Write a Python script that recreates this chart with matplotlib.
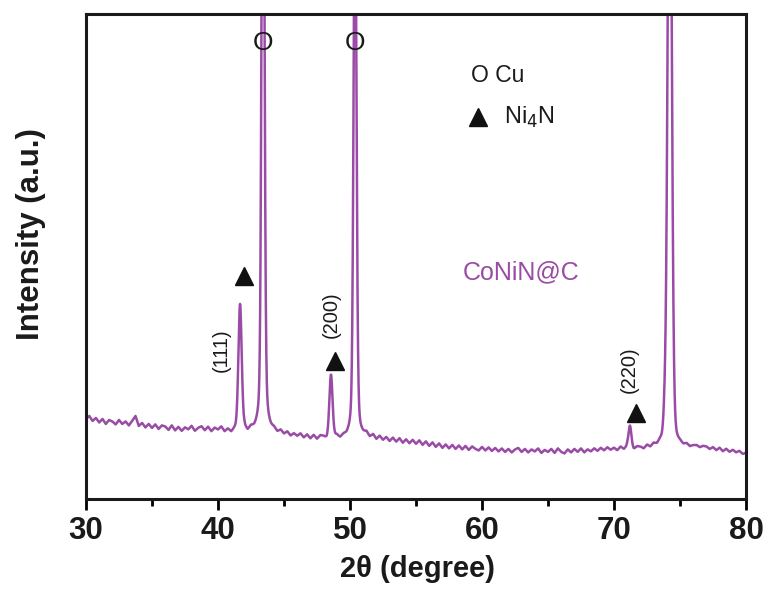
import numpy as np
import matplotlib
matplotlib.use("Agg")
import matplotlib.pyplot as plt
from matplotlib import font_manager

# ---- data -------------------------------------------------------------
# background of the XRD scan, sampled every 0.25 degree from 30 to 80
two_theta_bg_start, two_theta_bg_stop, two_theta_bg_step = 30.0, 80.0, 0.25
background = [
    160, 166, 156, 162, 153, 160, 150, 158, 155, 149, 158, 150, 155, 147, 156, 166,
    146, 152, 143, 150, 142, 149, 140, 147, 145, 138, 147, 137, 144, 136, 143, 139,
    146, 136, 142, 145, 137, 144, 135, 142, 138, 144, 134, 139, 132, 138, 135, 136,
    140, 132, 139, 135, 138, 136, 135, 137, 134, 136, 130, 135, 128, 133, 125, 130,
    125, 130, 122, 128, 120, 127, 119, 126, 124, 119, 126, 121, 125, 119, 124, 122,
    126, 123, 127, 122, 124, 129, 121, 127, 118, 125, 117, 123, 115, 122, 114, 121,
    112, 119, 111, 118, 110, 117, 108, 115, 106, 113, 104, 111, 102, 109, 101, 108,
    100, 107, 99, 106, 98, 105, 100, 97, 104, 97, 103, 96, 102, 95, 101, 94,
    100, 93, 99, 102, 94, 100, 93, 99, 95, 101, 92, 98, 94, 100, 92, 101,
    94, 91, 99, 93, 100, 94, 101, 93, 99, 95, 101, 96, 102, 97, 103, 98,
    102, 97, 104, 99, 105, 100, 98, 104, 103, 99, 106, 101, 107, 103, 108, 104,
    107, 103, 108, 104, 106, 103, 107, 102, 105, 106, 102, 105, 104, 99, 103, 97,
    102, 95, 100, 94, 98, 93, 96, 90, 92,
]

# diffraction peaks: position (2theta), height above background,
# gaussian sigma and lorentzian fraction (pseudo-Voigt)
peak_pos = [41.67, 43.41, 48.56, 50.38, 71.21, 73.85, 74.22]
peak_height = [252, 1550, 122, 1150, 45, 44, 1450]
peak_sigma = [0.125, 0.105, 0.12, 0.11, 0.11, 0.10, 0.15]
peak_eta = [0.2, 0.3, 0.2, 0.3, 0.2, 0.0, 0.2]

x_ticks = [30, 40, 50, 60, 70, 80]
hkl_labels = ["(111)", "(200)", "(220)"]
hkl_x = [40.22, 48.56, 71.16]
hkl_y = [298, 368, 258]
tri_x = [42.0, 48.9, 71.7]
tri_y = [446, 276, 172]
cu_marks = [43.41, 50.38]

# ---- build the pattern ------------------------------------------------
bg_x = np.arange(two_theta_bg_start, two_theta_bg_stop + 1e-9, two_theta_bg_step)
assert len(bg_x) == len(background)
tt = np.arange(30.0, 80.0001, 0.01)
intensity = np.interp(tt, bg_x, background).astype(float)
for p, h, s, eta in zip(peak_pos, peak_height, peak_sigma, peak_eta):
    gamma = 1.1774 * s
    gauss = np.exp(-0.5 * ((tt - p) / s) ** 2)
    lorentz = gamma ** 2 / ((tt - p) ** 2 + gamma ** 2)
    intensity = intensity + h * ((1 - eta) * gauss + eta * lorentz)

# ---- fonts --------------------------------------------------------------
available = {f.name for f in font_manager.fontManager.ttflist}
narrow = "Liberation Sans Narrow" if "Liberation Sans Narrow" in available else "Liberation Sans"
plt.rcParams["font.family"] = ["Liberation Sans", "DejaVu Sans"]

purple = "#9a4ba6"
ink = "#1a1a1a"

fig = plt.figure(figsize=(7.71, 5.92), dpi=100)
ax = fig.add_axes([86 / 771, 1 - 499 / 592, 660 / 771, 485 / 592])
ax.plot(tt, intensity, color=purple, lw=1.8)
ax.set_xlim(30, 80)
ax.set_ylim(0, 970)

for sp in ax.spines.values():
    sp.set_linewidth(2.2)
    sp.set_color(ink)

ax.set_yticks([])
ax.set_xticks(x_ticks)
ax.set_xticks(np.arange(35, 80, 10), minor=True)
ax.tick_params(axis="x", which="major", direction="out", length=8, width=2.0, pad=4)
ax.tick_params(axis="x", which="minor", direction="out", length=5, width=2.0)
for lbl in ax.get_xticklabels():
    lbl.set_fontfamily(narrow)
    lbl.set_fontweight("bold")
    lbl.set_fontsize(22.5)
    lbl.set_color(ink)

fig.text(418 / 771, 1 - 569 / 592, "2θ (degree)", fontsize=21, fontweight="bold",
         family=narrow, color=ink, ha="center", va="center")
fig.text(31 / 771, 1 - 234 / 592, "Intensity (a.u.)", fontsize=22.5,
         fontweight="bold", color=ink, ha="center", va="center", rotation=90)

# Cu markers above the substrate reflections
for p in cu_marks:
    ax.text(p, 0.94, "O", transform=ax.get_xaxis_transform(), ha="center",
            va="center", fontsize=19, color=ink)

# Ni4N markers
ax.plot(tri_x, tri_y, linestyle="none", marker="^", markersize=12.5, color="#111111")

# Miller indices
for lab, xx, yy in zip(hkl_labels, hkl_x, hkl_y):
    ax.text(xx, yy, lab, rotation=90, ha="center", va="center",
            fontsize=14.5, color=ink)

# key
ax.text(0.583, 1 - (76 - 14) / 485, "O Cu", transform=ax.transAxes,
        ha="left", va="center", fontsize=16.5, color=ink)
ax.plot([0.594], [1 - (117 - 14) / 485], transform=ax.transAxes,
        marker="^", markersize=12.5, color="#111111", linestyle="none")
ax.text(0.634, 1 - (117 - 14) / 485, r"Ni$_4$N", transform=ax.transAxes,
        ha="left", va="center", fontsize=17, color=ink)

ax.text(0.659, 1 - (272 - 14) / 485, "CoNiN@C", transform=ax.transAxes,
        ha="center", va="center", fontsize=18, color=purple)

fig.savefig("out.png", dpi=100)
